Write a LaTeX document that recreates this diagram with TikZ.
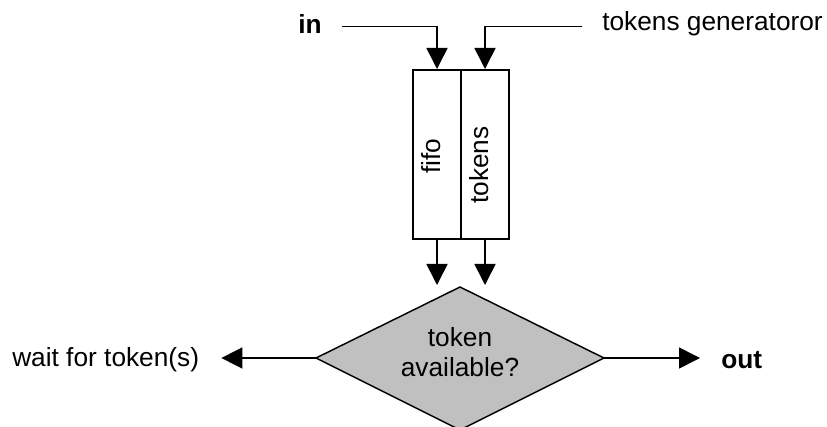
\documentclass[tikz,border=0pt]{standalone}
\usepackage{fontspec}
\setmainfont{Liberation Sans}
\usetikzlibrary{arrows.meta}
\begin{document}
\begin{tikzpicture}[x=0.75pt,y=-0.75pt,
  txt/.style={inner sep=0pt,font=\fontsize{19.7}{23}\selectfont},
  boxst/.style={draw,line width=1.5pt,minimum width=36pt,minimum height=126.75pt,inner sep=0pt},
  conn/.style={line width=1.2pt,-{Triangle[length=15.75pt,width=15.75pt]}},
  decision/.style={draw,line width=1.1pt,fill={rgb,255:red,192;green,192;blue,192}},
  dtext/.style={inner sep=0pt,align=center,font=\fontsize{19.7}{22.5}\selectfont}]
\useasboundingbox (0,0) rectangle (827,427);
% input labels
\node[txt,font=\fontsize{19.7}{23}\selectfont\bfseries] (in) at (310,24) {in};
\node[txt,anchor=west] (gen) at (602,24) {tokens generatoror};
% boxes
\node[boxst] (fifobox) at (437,154.5) {};
\node[boxst] (tokbox) at (485,154.5) {};
\node[txt,rotate=90,anchor=base] (fifo) at (440,156) {fifo};
\node[txt,rotate=90,anchor=base] (tok) at (488,165) {tokens};
% decision
\coordinate (dN) at (460,287);
\coordinate (dE) at (604,358);
\coordinate (dS) at (460,430);
\coordinate (dW) at (316,358);
\draw[decision] (dN) -- (dE) -- (dS) -- (dW) -- cycle;
\node[dtext] (dia) at (460,352) {token\\available?};
\coordinate (fa) at (437,285);
\coordinate (ta) at (485,285);
% outputs
\node[txt,anchor=west] (wait) at (12,360) {wait for token(s)};
\node[txt,anchor=west,font=\fontsize{19.7}{23}\selectfont\bfseries] (out) at (721,360) {out};
% connectors
\draw[conn] ([xshift=15pt,yshift=-2pt]in.east) -| (fifobox.north);
\draw[conn] ([xshift=-15pt,yshift=-2pt]gen.west) -| (tokbox.north);
\draw[conn] (fifobox.south) -- (fa);
\draw[conn] (tokbox.south) -- (ta);
\draw[conn] (dW) -- ([xshift=16.5pt]wait.east |- dW);
\draw[conn] (dE) -- ([xshift=-15.75pt]out.west |- dE);
\end{tikzpicture}
\end{document}
